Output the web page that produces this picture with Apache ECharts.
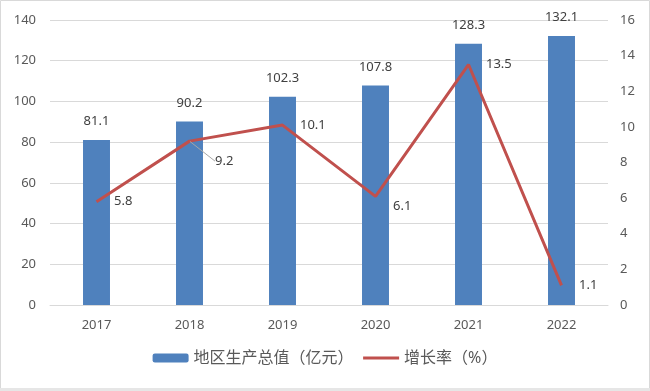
<!DOCTYPE html>
<html>
<head>
<meta charset="utf-8">
<script src="https://cdn.jsdelivr.net/npm/echarts@6/dist/echarts.min.js"></script>
<style>
html,body{margin:0;padding:0;background:#fff;}
#main{width:650px;height:391px;}
</style>
</head>
<body>
<div id="main"></div>
<script>
const categories = ['2017', '2018', '2019', '2020', '2021', '2022'];
const gdpValues = [81.1, 90.2, 102.3, 107.8, 128.3, 132.1];
const growthValues = [5.8, 9.2, 10.1, 6.1, 13.5, 1.1];
const leftTicks = [0, 140, 20];
const rightTicks = [0, 16, 2];

const FONT = '"Noto Sans", "Noto Sans CJK SC", sans-serif';
const chart = echarts.init(document.getElementById('main'));
chart.setOption({
  animation: false,
  textStyle: { fontFamily: FONT },
  grid: { left: 50, right: 42, top: 20, bottom: 86 },
  graphic: [{
    type: 'rect', shape: { x: 0.5, y: 0.5, width: 649, height: 388 },
    style: { fill: 'none', stroke: '#d9d9d9', lineWidth: 1 }, silent: true, z: -1
  }, {
    type: 'rect', shape: { x: 0, y: 388, width: 650, height: 3 },
    style: { fill: '#e6e6e6' }, silent: true
  }],
  legend: {
    bottom: 20, left: 'center', itemGap: 8, itemWidth: 36, itemHeight: 9,
    textStyle: { fontSize: 16, color: '#595959', fontFamily: FONT },
    data: [
      { name: '地区生产总值（亿元）' },
      { name: '增长率（%）', itemStyle: { opacity: 0 }, lineStyle: { width: 3, color: '#C0504D' } }
    ]
  },
  xAxis: {
    type: 'category', data: categories,
    axisLine: { lineStyle: { color: '#d9d9d9' } },
    axisTick: { show: false },
    axisLabel: { color: '#595959', fontSize: 13, margin: 14 }
  },
  yAxis: [{
    type: 'value', min: leftTicks[0], max: leftTicks[1], interval: leftTicks[2],
    axisLine: { show: false }, axisTick: { show: false },
    axisLabel: { color: '#595959', fontSize: 13, margin: 14 },
    splitLine: { lineStyle: { color: '#d9d9d9' } }
  }, {
    type: 'value', min: rightTicks[0], max: rightTicks[1], interval: rightTicks[2],
    axisLine: { show: false }, axisTick: { show: false },
    axisLabel: { color: '#595959', fontSize: 13, margin: 12 },
    splitLine: { show: false }
  }],
  series: [{
    name: '地区生产总值（亿元）', type: 'bar', data: gdpValues, barWidth: '29%',
    itemStyle: { color: '#4F81BD' },
    label: { show: true, position: 'top', distance: 12, color: '#404040', fontSize: 13 }
  }, {
    name: '增长率（%）', type: 'line', yAxisIndex: 1,
    data: growthValues.map((v, i) => ({ value: v, labelLine: { show: i === 1 } })),
    symbol: 'circle', symbolSize: 1, showSymbol: true,
    lineStyle: { color: '#C0504D', width: 3 },
    itemStyle: { color: 'rgba(0,0,0,0)' },
    label: { show: true, position: 'right', distance: 17, color: '#404040', fontSize: 13 },
    labelLine: { show: false, lineStyle: { color: '#a6a6a6', width: 1 } },
    labelLayout: function (p) {
      if (p.dataIndex === 1) return { dx: 8, dy: 20 };
      if (p.dataIndex === 3) return { dx: 0, dy: 10 };
      return {};
    }
  }]
});
</script>
</body>
</html>
